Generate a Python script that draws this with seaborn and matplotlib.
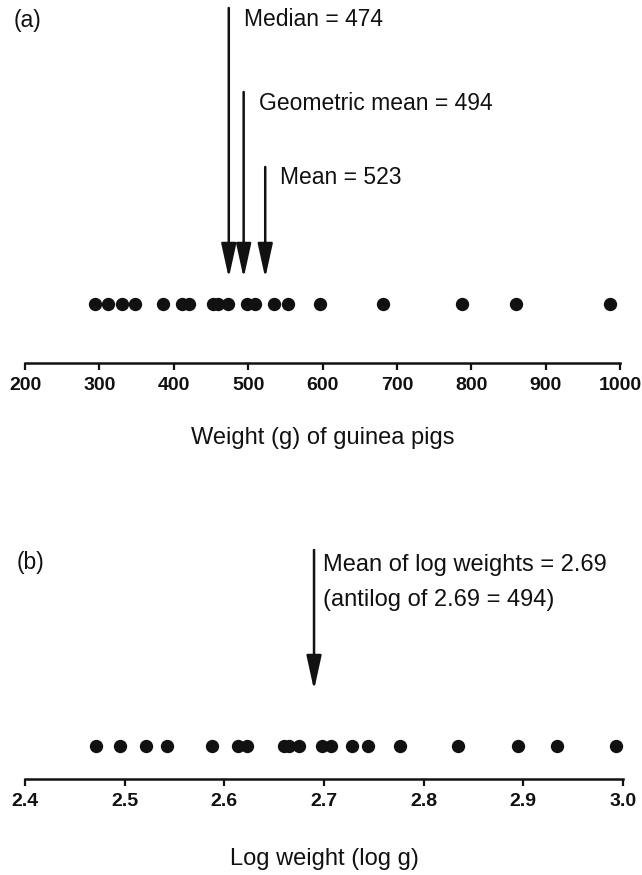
import numpy as np
import pandas as pd
import matplotlib
matplotlib.use("Agg")
import matplotlib.pyplot as plt
import seaborn as sns

# Guinea pig body weights (g)
weights = [294, 311, 331, 348, 385, 411, 421, 453, 460, 473,
           498, 509, 535, 554, 596, 682, 787, 860, 987]
log_weights = [2.471, 2.495, 2.521, 2.542, 2.588, 2.614, 2.623, 2.660, 2.665, 2.675,
               2.698, 2.707, 2.728, 2.744, 2.776, 2.834, 2.895, 2.934, 2.993]

weight_ticks = [200, 300, 400, 500, 600, 700, 800, 900, 1000]
log_ticks = [2.4, 2.5, 2.6, 2.7, 2.8, 2.9, 3.0]

# Summary statistics marked with arrows
stat_labels = ["Median = 474", "Geometric mean = 494", "Mean = 523"]
stat_values = [474, 494, 523]
log_mean = 2.69
log_labels = ["Mean of log weights = 2.69", "(antilog of 2.69 = 494)"]

sns.set_theme(style="white")
plt.rcParams["font.family"] = ["Liberation Sans", "DejaVu Sans"]

W, H = 642, 875
fig = plt.figure(figsize=(W / 100, H / 100), dpi=100)

def px_axes(x0, x1, ytop, ybot):
    return fig.add_axes([x0 / W, (H - ybot) / H, (x1 - x0) / W, (ybot - ytop) / H])

INK = "#111111"
TXT = 16.5

def style_axis(ax, ticks, labels, xlabel, pad):
    for s in ["left", "right", "top"]:
        ax.spines[s].set_visible(False)
    ax.spines["bottom"].set_linewidth(1.8)
    ax.spines["bottom"].set_color(INK)
    ax.set_yticks([])
    ax.set_ylabel("")
    ax.set_xticks(ticks)
    ax.set_xticklabels(labels, fontweight="bold")
    ax.tick_params(axis="x", direction="out", length=5, width=1.6, colors=INK,
                   labelsize=14, pad=5, bottom=True)
    ax.set_xlabel(xlabel, fontsize=17, labelpad=pad, color=INK)
    ax.grid(False)

def arrow(ax, x, tail, tip):
    ax.annotate("", xy=(x, tip), xytext=(x, tail),
                arrowprops=dict(arrowstyle="-|>,head_length=21,head_width=4.6",
                                mutation_scale=1, lw=1.8, color=INK,
                                shrinkA=0, shrinkB=0))

# ---------------- (a) raw weights ----------------
ax1 = px_axes(25, 620, 0, 363)
ax1.set_xlim(200, 1000)
ax1.set_ylim(0, 363)
df_a = pd.DataFrame({"w": weights, "row": [59] * len(weights)})
sns.scatterplot(data=df_a, x="w", y="row", ax=ax1, s=92, color=INK,
                edgecolor=INK, linewidth=0, legend=False, clip_on=False)
tails = [355, 271, 196]
text_y = [343, 260, 185]
for v, lab, t, ty in zip(stat_values, stat_labels, tails, text_y):
    arrow(ax1, v, t, 85)
    ax1.text(v + 20, ty, lab, fontsize=TXT, color=INK, va="center", ha="left")
style_axis(ax1, weight_ticks, [str(t) for t in weight_ticks], "Weight (g) of guinea pigs", 24)
fig.text(14 / W, 1 - 20 / H, "(a)", fontsize=TXT, color=INK, va="center", ha="left")

# ---------------- (b) log weights ----------------
ax2 = px_axes(25, 623, 540, 779)
ax2.set_xlim(2.4, 3.0)
ax2.set_ylim(0, 239)
df_b = pd.DataFrame({"lw": log_weights, "row": [33] * len(log_weights)})
sns.scatterplot(data=df_b, x="lw", y="row", ax=ax2, s=92, color=INK,
                edgecolor=INK, linewidth=0, legend=False, clip_on=False)
arrow(ax2, log_mean, 229, 89)
ax2.text(log_mean + 0.009, 214, log_labels[0], fontsize=17, color=INK, va="center", ha="left")
ax2.text(log_mean + 0.009, 179, log_labels[1], fontsize=17, color=INK, va="center", ha="left")
style_axis(ax2, log_ticks, [f"{t:.1f}" for t in log_ticks], "Log weight (log g)", 27.5)
fig.text(17 / W, 1 - 563 / H, "(b)", fontsize=TXT, color=INK, va="center", ha="left")

fig.savefig("out.png", dpi=100, facecolor="white")
